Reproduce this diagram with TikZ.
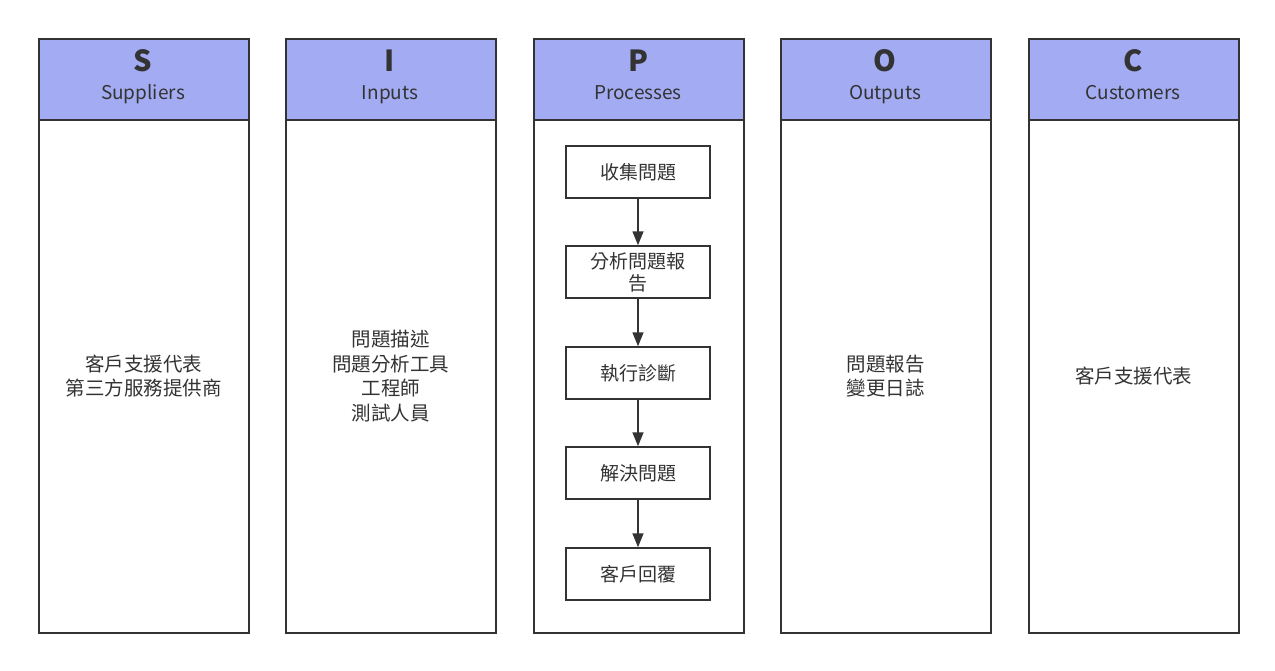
\documentclass[tikz,border=0pt]{standalone}
\usepackage{fontspec}
\setmainfont{Noto Sans CJK TC}
\usetikzlibrary{arrows.meta}
\definecolor{hdr}{HTML}{A3ACF2}
\definecolor{ln}{HTML}{333333}
\begin{document}
\begin{tikzpicture}[x=1pt,y=-1pt,
  hd/.style={draw=ln,line width=1.5pt,fill=hdr,minimum width=210pt,minimum height=81pt,anchor=north west,inner sep=0pt},
  lt/.style={text=ln,font=\fontsize{29}{30}\selectfont\bfseries,inner sep=0pt,anchor=base},
  st/.style={text=ln,font=\fontsize{19}{20}\selectfont,inner sep=0pt,anchor=base},
  bd/.style={draw=ln,line width=1.5pt,fill=white,minimum width=210pt,minimum height=513pt,anchor=north west,inner sep=0pt,align=center,text=ln,font=\fontsize{19.5}{24.5}\selectfont},
  pb/.style={draw=ln,line width=1.5pt,fill=white,minimum width=144pt,minimum height=52pt,inner sep=0pt,align=center,text=ln,font=\fontsize{19}{22}\selectfont},
  ar/.style={-{Triangle[length=14pt,width=11pt]},draw=ln,line width=1.5pt}]
\useasboundingbox (0,0) rectangle (1275,670);
\node[bd] (bS) at (38,119) {客戶支援代表\\第三方服務提供商};
\node[bd] (bI) at (285,119) {問題描述\\問題分析工具\\工程師\\測試人員};
\node[bd] (bP) at (533,119) {};
\node[bd] (bO) at (780,119) {問題報告\\變更日誌};
\node[bd] (bC) at (1028,119) {客戶支援代表};
\foreach \n/\x/\l/\s in {S/38/S/Suppliers, I/285/I/Inputs, P/533/P/Processes, O/780/O/Outputs, C/1028/C/Customers}{
  \node[hd] (h\n) at (\x,38) {};
  \node[lt] (l\n) at (\x+105,71) {\l};
  \node[st] (s\n) at (\x+105,99) {\s};
}
\node[pb] (p1) at (638,172) {收集問題};
\node[pb] (p2) at (638,272) {分析問題報\\告};
\node[pb] (p3) at (638,373) {執行診斷};
\node[pb] (p4) at (638,473) {解決問題};
\node[pb] (p5) at (638,574) {客戶回覆};
\draw[ar] (p1) -- (p2);
\draw[ar] (p2) -- (p3);
\draw[ar] (p3) -- (p4);
\draw[ar] (p4) -- (p5);
\end{tikzpicture}
\end{document}
